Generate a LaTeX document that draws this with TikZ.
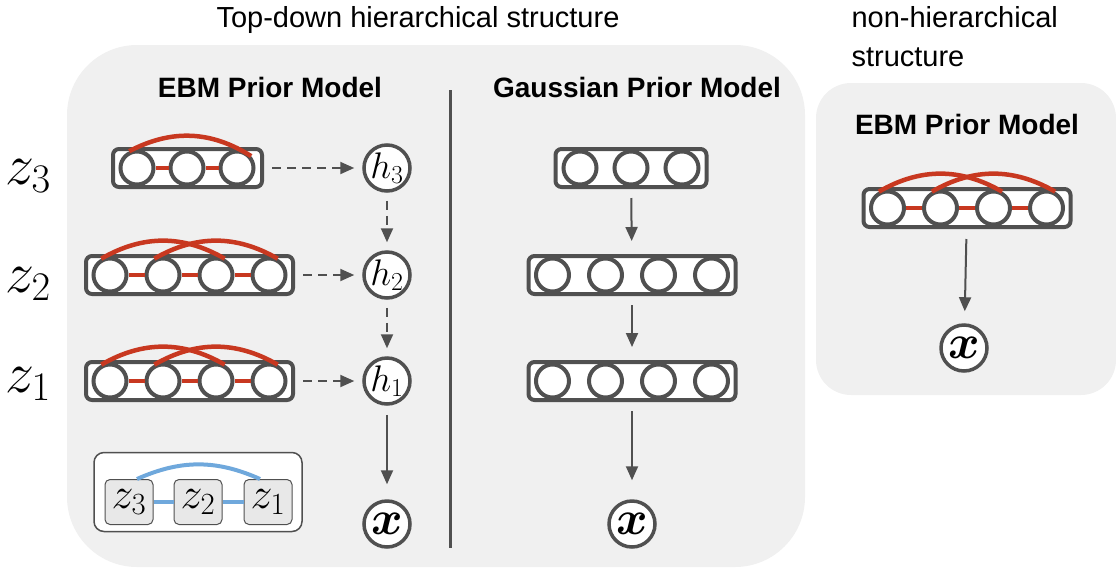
\RequirePackage{fix-cm}
\documentclass[tikz,border=0pt]{standalone}
\usepackage{amsmath}
\usepackage{bm}
\usepackage[no-math]{fontspec}
\newfontfamily\arialfont{Liberation Sans}
\usetikzlibrary{arrows.meta}

\definecolor{panelgray}{RGB}{240,240,240}
\definecolor{linegray}{RGB}{80,80,80}
\definecolor{linkred}{RGB}{200,56,32}
\definecolor{linkblue}{RGB}{111,168,220}
\definecolor{cellgray}{RGB}{232,232,232}

\begin{document}
\begin{tikzpicture}[x=1pt,y=-1pt,
    layer/.style={draw=linegray,line width=4pt,fill=white,rounded corners=6pt,minimum height=38pt,inner sep=0pt},
    unit/.style={circle,draw=linegray,line width=4pt,fill=white,minimum size=33pt,inner sep=0pt},
    hidden/.style={circle,draw=linegray,line width=3.5pt,fill=white,minimum size=46pt,inner sep=0pt,font=\fontsize{37}{37}\selectfont},
    obs/.style={hidden,font=\fontsize{48}{48}\selectfont},
    cell/.style={draw=linegray,line width=1pt,fill=cellgray,rounded corners=5pt,minimum width=48pt,minimum height=45pt,inner sep=0pt,font=\fontsize{44}{44}\selectfont},
    link/.style={draw=linkred,line width=4.5pt},
    flow/.style={draw=linegray,line width=2pt,-{Triangle[length=14pt,width=12pt]},shorten <=9pt,shorten >=13pt},
    dflow/.style={flow,dash pattern=on 9pt off 6pt,shorten <=8pt,shorten >=8pt},
    title/.style={font=\arialfont\fontsize{29}{29}\selectfont},
    head/.style={font=\arialfont\bfseries\fontsize{28}{28}\selectfont},
    zlabel/.style={anchor=base,font=\fontsize{58}{58}\selectfont}]

    \useasboundingbox (0,0) rectangle (1116,574);

    % panels
    \fill[panelgray,rounded corners=70pt] (67,45) rectangle (805,567);
    \fill[panelgray,rounded corners=35pt] (816,83) rectangle (1116,395);
    \draw[linegray,line width=3pt] (450,90) -- (450,548);

    % titles
    \node[title,anchor=base] (toptitle) at (418,27) {Top-down hierarchical structure};
    \node[title,anchor=base west] (flattitle) at (848,27) {non-hierarchical};
    \node[title,anchor=base west] (flattitle2) at (848,66) {structure};
    \node[head,anchor=base] (ebmhead) at (270,97) {EBM Prior Model};
    \node[head,anchor=base] (gausshead) at (637,97) {Gaussian Prior Model};
    \node[head,anchor=base] (flathead) at (967,134) {EBM Prior Model};

    \node[zlabel] (lz3) at (28,184) {$z_3$};
    \node[zlabel] (lz2) at (28,292) {$z_2$};
    \node[zlabel] (lz1) at (28,392) {$z_1$};

    % EBM prior, top layer
    \node[layer,minimum width=149pt] (e3) at (187.5,168) {};
    \foreach \i in {1,2,3}
        \node[unit] (e3-\i) at (87+50*\i,168) {};
    \draw[link] (e3-1) -- (e3-2) (e3-2) -- (e3-3);
    \draw[link] (e3-1.115) to[bend left=30] (e3-3.40);

    % EBM layers with four units
    \foreach \row/\cx/\cy in {e2/189.5/275,e1/189.5/381,f1/967/208}{
        \node[layer,minimum width=207pt] (\row) at (\cx,\cy) {};
        \foreach \i in {1,...,4}
            \node[unit] (\row-\i) at (\cx+53*\i-132.5,\cy) {};
        \draw[link] (\row-1) -- (\row-2) (\row-2) -- (\row-3) (\row-3) -- (\row-4);
        \draw[link] (\row-1.118) to[bend left=30] (\row-3.62);
        \draw[link] (\row-2.118) to[bend left=30] (\row-4.62);
    }

    \node[hidden] (h3) at (387,168) {$h_3$};
    \node[hidden] (h2) at (387,275) {$h_2$};
    \node[hidden] (h1) at (387,381) {$h_1$};
    \node[obs] (xl) at (387,524) {$\bm{x}$};

    \draw[dflow] (e3) -- (h3);
    \draw[dflow] (e2) -- (h2);
    \draw[dflow] (e1) -- (h1);
    \draw[dflow] (h3) -- (h2);
    \draw[dflow] (h2) -- (h1);
    \draw[flow,shorten >=15pt] (h1) -- (xl);

    % joint EBM inset
    \node[draw=linegray,line width=1.5pt,fill=white,rounded corners=10pt,minimum width=208pt,minimum height=79pt] (inset) at (198,492) {};
    \node[cell] (s3) at (129,502) {$z_3$};
    \node[cell] (s2) at (198,502) {$z_2$};
    \node[cell] (s1) at (268,502) {$z_1$};
    \draw[linkblue,line width=4pt] (s3) -- (s2) (s2) -- (s1);
    \draw[linkblue,line width=4pt] ([xshift=8pt]s3.north) to[bend left=24] ([xshift=-8pt]s1.north);

    % Gaussian prior
    \node[layer,minimum width=151pt] (g3) at (631,168) {};
    \foreach \i in {1,2,3}
        \node[unit] (g3-\i) at (529+51*\i,168) {};
    \foreach \row/\cy in {g2/275,g1/381}{
        \node[layer,minimum width=207pt] (\row) at (632,\cy) {};
        \foreach \i in {1,...,4}
            \node[unit] (\row-\i) at (499.5+53*\i,\cy) {};
    }
    \node[obs] (xg) at (632,524) {$\bm{x}$};

    \draw[flow] (g3) -- (g2);
    \draw[flow] (g2) -- (g1);
    \draw[flow,shorten >=19pt] (g1) -- (xg);

    % non-hierarchical
    \node[obs] (xr) at (964,348) {$\bm{x}$};
    \draw[flow,shorten <=10pt,shorten >=12pt] (f1) -- (xr);

\end{tikzpicture}
\end{document}
